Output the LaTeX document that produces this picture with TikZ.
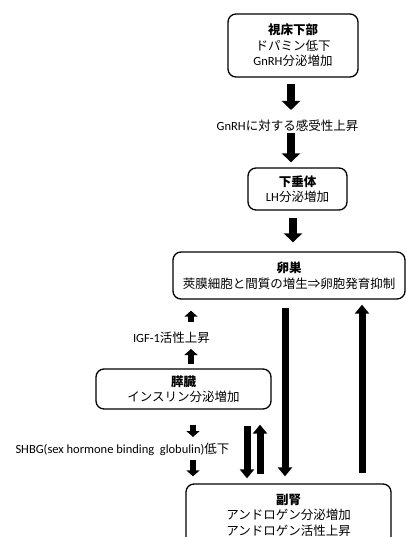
\documentclass[tikz,border=0pt]{standalone}
\usepackage{fontspec}
\setmainfont{Noto Sans CJK JP}
\newfontfamily\lat{Carlito}
\usetikzlibrary{arrows.meta,calc}
\tikzset{
  box/.style={draw, line width=1.3pt, rounded corners=8pt, fill=white, align=center, inner sep=2pt, font=\fontsize{12.5}{15.5}\selectfont},
  lbl/.style={inner sep=1pt, font=\fontsize{12.5}{15}\selectfont},
  bigarrow/.style={line width=8pt, -{Triangle[length=9pt,width=18pt]}},
  smallarrow/.style={line width=6pt, -{Triangle[length=6pt,width=13pt]}},
  longarrow/.style={line width=7pt, -{Triangle[length=9pt,width=14pt]}},
}
\begin{document}
\begin{tikzpicture}[x=1pt,y=-1pt]
\useasboundingbox (0,0) rectangle (406,537);
\node[box, minimum width=130pt, minimum height=63pt] (hyp) at (293,45.5) {{\bfseries 視床下部}\\ドパミン低下\\{\lat GnRH}分泌増加};
\node[lbl] (lab1) at (287.5,126) {{\lat GnRH}に対する感受性上昇};
\node[box, minimum width=99pt, minimum height=42pt] (pit) at (297.5,189) {{\bfseries 下垂体}\\{\lat LH}分泌増加};
\node[box, minimum width=232pt, minimum height=47pt] (ova) at (289,275.5) {{\bfseries 卵巣}\\莢膜細胞と間質の増生⇒卵胞発育抑制};
\node[lbl] (lab2) at (171.5,338) {{\lat IGF-1}活性上昇};
\node[box, minimum width=175pt, minimum height=40pt] (pan) at (183.5,389) {{\bfseries 膵臓}\\インスリン分泌増加};
\node[lbl] (lab3) at (122.5,449) {{\lat SHBG(sex hormone binding\ \ globulin)}低下};
\node[box, minimum width=205pt, minimum height=62pt] (adr) at (288.5,515) {{\bfseries 副腎}\\アンドロゲン分泌増加\\アンドロゲン活性上昇};
% arrows
\draw[bigarrow] ($(hyp.south)+(-2,6)$) -- ($(lab1.center)+(3.5,-16)$);
\draw[bigarrow] ($(lab1.center)+(3.5,7)$) -- ($(pit.north)+(-6.5,-5)$);
\draw[bigarrow] ($(pit.south)+(-4.5,7)$) -- ($(ova.north)+(4,-9)$);
\draw[smallarrow] ($(pan.north)+(7.5,-4)$) -- ($(lab2.center)+(19.5,11)$);
\draw[smallarrow] ($(lab2.center)+(19.5,-16)$) -- ($(ova.south)+(-98,11)$);
\draw[smallarrow] ($(pan.south)+(9.5,15)$) -- ($(lab3.center)+(70.5,-12)$);
\draw[smallarrow] ($(lab3.center)+(70.5,11)$) -- ($(adr.north)+(-95.5,-7)$);
\draw[longarrow] ($(pan.south)+(63.5,16)$) -- ($(adr.north)+(-41.5,-5)$);
\draw[longarrow] ($(adr.north)+(-28.5,-9)$) -- ($(pan.south)+(76.5,15)$);
\draw[longarrow] ($(ova.south)+(-4,8)$) -- ($(adr.north)+(-3.5,-7)$);
\draw[longarrow] ($(adr.north)+(73.5,-10)$) -- ($(ova.south)+(73,5)$);
\end{tikzpicture}
\end{document}
